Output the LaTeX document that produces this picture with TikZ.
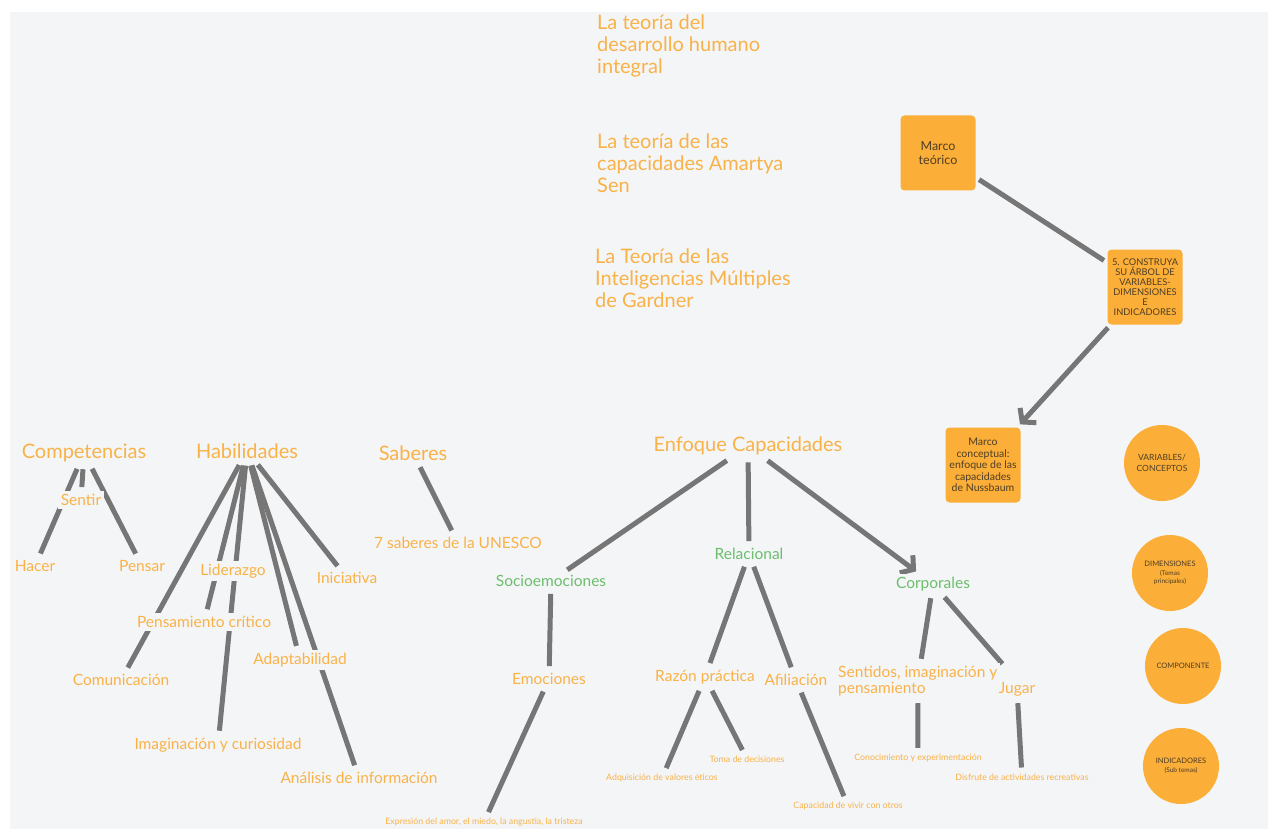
\documentclass[tikz,border=0pt]{standalone}
\usepackage{fontspec}
\setmainfont{Lato}
\usetikzlibrary{arrows.meta}
\usetikzlibrary{positioning}
\definecolor{canvas}{RGB}{244,245,247}
\definecolor{ink}{RGB}{249,178,72}
\definecolor{leaf}{RGB}{108,190,108}
\definecolor{wire}{RGB}{118,118,118}
\definecolor{boxfill}{RGB}{251,174,56}
\definecolor{boxink}{RGB}{78,62,38}
\pgfdeclarelayer{back}
\pgfdeclarelayer{wires}
\pgfsetlayers{back,wires,main}
\tikzset{
  big/.style={text=ink, fill=canvas, inner sep=3pt, font=\fontsize{20}{24}\selectfont},
  mid/.style={text=ink, fill=canvas, inner sep=3pt, font=\fontsize{15.5}{18}\selectfont},
  dim/.style={mid, text=leaf},
  small/.style={text=ink, fill=canvas, inner sep=2pt, font=\fontsize{8.8}{10}\selectfont},
  theory/.style={text=ink, anchor=west, align=left, inner sep=0pt, font=\fontsize{20}{22}\selectfont},
  card/.style={rectangle, fill=boxfill, rounded corners=4pt, minimum width=75pt, minimum height=75pt, text=boxink, align=center, inner sep=1pt},
  dot/.style={circle, fill=boxfill, minimum size=76pt, text=boxink, align=center, inner sep=0pt},
  link/.style={draw=wire, line width=5pt, shorten <=4pt, shorten >=4pt},
  arrow/.style={link, -{Straight Barb[length=9pt, width=22pt]}}
  }

\begin{document}
\begin{tikzpicture}[x=1pt, y=-1pt]
	% Frame
	\useasboundingbox (0,0) rectangle (1268,829);
	\begin{pgfonlayer}{back}
	\fill[canvas] (10,12) rectangle (1268,829);
	\end{pgfonlayer}

	% Theories
	\node[theory] (desarrollo) at (597,46) {La teoría del\\desarrollo humano\\integral};
	\node[theory] (sen) at (597,163) {La teoría de las\\capacidades Amartya\\Sen};
	\node[theory] (gardner) at (595,278) {La Teoría de las\\Inteligencias Múltiples\\de Gardner};

	% Boxes
	\node[card, font=\fontsize{12.5}{14.5}\selectfont] (teorico) at (938,153) {Marco\\teórico};
	\node[card, font=\fontsize{9.3}{10}\selectfont] (arbol) at (1145,287) {5. CONSTRUYA\\SU ÁRBOL DE\\VARIABLES-\\DIMENSIONES\\E\\INDICADORES};
	\node[card, font=\fontsize{10.5}{11.5}\selectfont] (conceptual) at (983,465) {Marco\\conceptual:\\enfoque de las\\capacidades\\de Nussbaum};

	% Legend
	\node[dot, font=\fontsize{8.5}{11}\selectfont] (variables) at (1162,463) {VARIABLES/\\CONCEPTOS};
	\node[dot, font=\fontsize{7.5}{8.5}\selectfont] (dimensiones) at (1170,573) {DIMENSIONES\\{\fontsize{6.5}{8.5}\selectfont(Temas}\\{\fontsize{6.5}{8.5}\selectfont principales)}};
	\node[dot, font=\fontsize{7.5}{9}\selectfont] (componente) at (1183,666) {COMPONENTE};
	\node[dot, font=\fontsize{7.5}{9}\selectfont] (indicadores) at (1181,766) {INDICADORES\\{\fontsize{6.5}{9}\selectfont(Sub temas)}};

	% Competencias
	\node[big] (comp) at (84,453) {Competencias};
	\node[mid] (sentir) at (81,500) {Sentir};
	\node[mid] (hacer) at (35,566) {Hacer};
	\node[mid] (pensar) at (142,566) {Pensar};

	% Habilidades
	\node[big] (hab) at (247,451) {Habilidades};
	\node[mid] (liderazgo) at (233,571) {Liderazgo};
	\node[mid] (iniciativa) at (347,578) {Iniciativa};
	\node[mid] (critico) at (204,622) {Pensamiento crítico};
	\node[mid] (adapta) at (300,660) {Adaptabilidad};
	\node[mid] (comunica) at (121,680) {Comunicación};
	\node[mid] (imagina) at (218,745) {Imaginación y curiosidad};
	\node[mid] (analisis) at (359,778) {Análisis de información};

	% Saberes
	\node[big] (saberes) at (413,453) {Saberes};
	\node[mid] (unesco) at (458,543) {7 saberes de la UNESCO};

	% Enfoque
	\node[big] (enfoque) at (748,446) {Enfoque Capacidades};
	\node[dim] (socio) at (551,581) {Socioemociones};
	\node[dim] (relacional) at (749,554) {Relacional};
	\node[dim] (corporales) at (933,584) {Corporales};
	\node[mid] (emociones) at (549,679) {Emociones};
	\node[mid] (razon) at (705,677) {Razón práctica};
	\node[mid] (afiliacion) at (796,680) {Afiliación};
	\node[mid, anchor=west, align=left, font=\fontsize{15.5}{16}\selectfont] (sentidos) at (835,681) {Sentidos, imaginación y\\pensamiento};
	\node[mid] (jugar) at (1017,689) {Jugar};
	\node[small] (expresion) at (484,822) {Expresión del amor, el miedo, la angustia, la tristeza};
	\node[small] (valores) at (662,778) {Adquisición de valores éticos};
	\node[small] (decisiones) at (747,759) {Toma de decisiones};
	\node[small] (vivir) at (848,806) {Capacidad de vivir con otros};
	\node[small] (conocimiento) at (918,758) {Conocimiento y experimentación};
	\node[small] (disfrute) at (1022,777) {Disfrute de actividades recreativas};

	% Arrow
	\begin{pgfonlayer}{wires}
	\draw[link] (teorico) -- (arbol);
	\draw[arrow] (arbol) -- (conceptual);

	\draw[link] (comp) -- (hacer);
	\draw[link] (comp) -- (sentir);
	\draw[link] (comp) -- (pensar);

	\draw[link] (hab) -- (comunica);
	\draw[link] (hab) -- (critico);
	\draw[link] (hab) -- (imagina);
	\draw[link] (hab) -- (adapta);
	\draw[link] (hab) -- (analisis);
	\draw[link] (hab) -- (iniciativa);

	\draw[link] (saberes) -- (unesco);

	\draw[link] (enfoque) -- (socio);
	\draw[link] (enfoque) -- (relacional);
	\draw[arrow] (enfoque) -- (corporales);
	\draw[link] (socio) -- (emociones);
	\draw[link] (emociones) -- (expresion);
	\draw[link] (relacional) -- (razon);
	\draw[link] (relacional) -- (afiliacion);
	\draw[link] (razon) -- (valores);
	\draw[link] (razon) -- (decisiones);
	\draw[link] (afiliacion) -- (vivir);
	\draw[link] (corporales) -- (sentidos);
	\draw[link] (corporales) -- ([shift={(-12,-12)}]jugar.north);
	\draw[link] (sentidos) -- (conocimiento);
	\draw[link] (jugar) -- (disfrute);
	\end{pgfonlayer}
\end{tikzpicture}
\end{document}
